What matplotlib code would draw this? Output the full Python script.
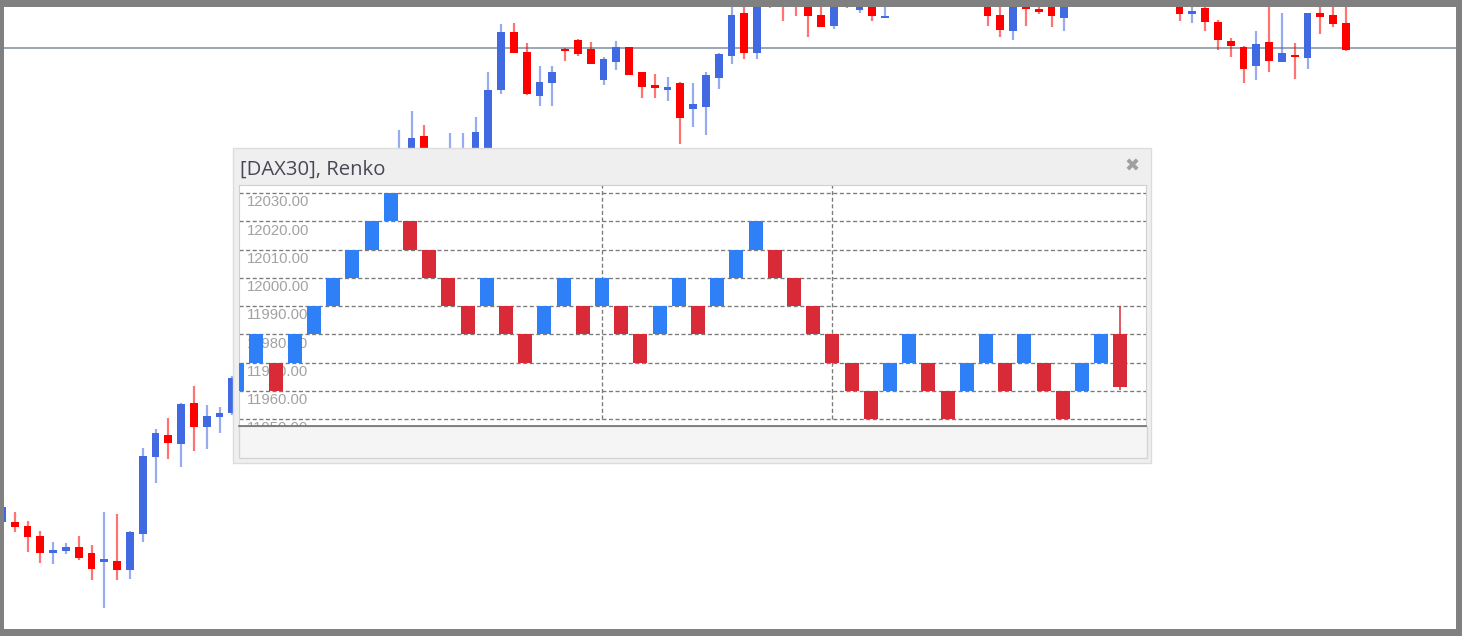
import numpy as np
import matplotlib.pyplot as plt
from matplotlib.patches import Rectangle
from matplotlib.transforms import offset_copy

W, H = 1462, 636
nan = np.nan

# background candle chart, first candle (index -1) is cut by the left border
# nan = candle hidden behind the popup or above the top edge
candle_start = -1
candle_open = [11763.0, 11763.2, 11761.0, 11756.2, 11747.4, 11748.4, 11750.7, 11747.4, 11742.9, 11743.5,
               11738.8, 11757.0, 11795.4, 11806.5, 11801.9, 11822.4, 11810.7, 11815.4, 11817.5] + [nan] * 12 + \
              [11940.0, 11944.0, 11956.0, nan, 11940.0, 11940.0, 11944.0, 11944.0, 11979.0, 12007.9,
               11998.2, 11976.0, 11982.4, 11999.7, 12004.0, 11999.7, 11983.9, 11992.9, 12000.4, 11987.9,
               11981.4, 11979.2, 11982.4, 11969.5, 11970.4, 11984.9, 11996.0, 12017.4, 11997.7, 12022.0,
               12030.0, 12030.0, 12026.0, 12016.5, 12011.2, 12030.0, 12019.0, 12026.0, 12015.2] + [nan] * 7 + \
              [12026.0, 12016.5, 12008.7, 12026.0, 12019.5, 12026.0, 12015.2] + [nan] * 8 + \
              [12026.0, 12016.9, 12019.9, 12013.2, 12003.5, 12000.4, 11991.2, 12002.9, 11993.2, 11996.5,
               11995.2, 12017.4, 12016.5, 12012.4]
candle_high = [11771.5, 11768.2, 11763.5, 11758.7, 11752.9, 11752.4, 11756.2, 11751.5, 11768.2, 11766.9,
               11758.7, 11799.9, 11809.5, 11815.2, 11822.4, 11831.2, 11821.5, 11820.7, 11836.0] + [nan] * 12 + \
              [11959.0, 11968.5, 11961.4, nan, 11957.4, 11957.4, 11965.4, 11987.9, 12011.9, 12012.7,
               12002.4, 11991.0, 11991.0, 11999.9, 12004.7, 12002.9, 11995.7, 12003.7, 12000.7, 11988.0,
               11987.0, 11985.4, 11983.2, 11982.4, 11988.0, 11997.7, 12023.0, 12023.0, 12030.0, 12032.0,
               12032.0, 12032.0, 12030.0, 12022.0, 12025.0, 12032.0, 12028.0, 12028.0, 12020.7] + [nan] * 7 + \
              [12028.0, 12022.0, 12026.0, 12028.0, 12020.7, 12028.0, 12028.0] + [nan] * 8 + \
              [12028.0, 12022.0, 12021.0, 12014.0, 12005.2, 12001.2, 12008.5, 12023.0, 12017.4, 12002.4,
               12017.4, 12022.0, 12022.0, 12022.0]
candle_low = [11762.0, 11757.9, 11748.2, 11742.7, 11742.0, 11746.9, 11744.0, 11734.0, 11719.9, 11734.0,
              11734.4, 11753.2, 11782.7, 11794.5, 11790.7, 11798.5, 11799.5, 11807.4, 11816.5] + [nan] * 12 + \
             [11936.0, 11940.0, 11940.0, nan, 11938.0, 11938.0, 11940.0, 11940.0, 11976.9, 11997.4,
              11976.5, 11971.0, 11971.0, 11993.5, 11996.0, 11992.0, 11981.5, 11988.9, 11986.4, 11975.0,
              11975.0, 11973.7, 11952.0, 11960.7, 11956.7, 11979.4, 11992.0, 11994.4, 11994.4, 12019.9,
              12013.5, 12016.2, 12005.7, 12010.7, 12009.5, 12019.9, 12017.7, 12013.7, 12014.9] + [nan] * 7 + \
             [12011.2, 12005.7, 12004.0, 12011.2, 12016.9, 12010.4, 12008.7] + [nan] * 8 + \
             [12013.7, 12012.7, 12008.7, 11999.0, 11995.4, 11982.4, 11984.0, 11988.2, 11992.9, 11984.5,
              11989.5, 12007.0, 12010.4, 11998.7]
candle_close = [11770.5, 11760.4, 11755.4, 11747.7, 11749.0, 11750.4, 11745.2, 11739.5, 11744.5, 11738.9,
                11757.9, 11796.0, 11807.4, 11802.7, 11821.9, 11810.7, 11816.0, 11817.7, 11835.0] + [nan] * 12 + \
               [11948.0, 11955.2, 11944.0, nan, 11946.0, 11946.0, 11958.2, 11979.0, 12007.9, 11997.7,
                11976.9, 11982.9, 11987.9, 11998.5, 11996.9, 11992.0, 11994.4, 12000.7, 11986.4, 11980.7,
                11980.0, 11980.5, 11964.9, 11971.9, 11986.4, 11996.9, 12016.5, 11997.7, 12026.0, 12030.0,
                12022.0, 12022.0, 12016.2, 12010.7, 12022.0, 12024.0, 12026.0, 12016.2, 12016.0] + [nan] * 7 + \
               [12016.2, 12009.0, 12024.0, 12019.4, 12018.2, 12016.2, 12026.0] + [nan] * 8 + \
               [12016.9, 12018.7, 12012.9, 12004.0, 12001.0, 11989.5, 12002.0, 11993.5, 11997.4, 11995.4,
                12017.4, 12015.4, 12011.9, 11999.0]
level_line = 12000.0

# Renko popup
box_size = 10
brick_low = [11960, 11970, 11960, 11970, 11980, 11990, 12000, 12010, 12020, 12010,
             12000, 11990, 11980, 11990, 11980, 11970, 11980, 11990, 11980, 11990,
             11980, 11970, 11980, 11990, 11980, 11990, 12000, 12010, 12000, 11990,
             11980, 11970, 11960, 11950, 11960, 11970, 11960, 11950, 11960, 11970,
             11960, 11970, 11960, 11950, 11960, 11970]
brick_up = [1, 1, 0, 1, 1, 1, 1, 1, 1, 0,
            0, 0, 0, 1, 0, 0, 1, 1, 0, 1,
            0, 0, 1, 1, 0, 1, 1, 1, 0, 0,
            0, 0, 0, 0, 1, 1, 0, 0, 1, 1,
            0, 1, 0, 0, 1, 1]
last_open, last_close, last_high, last_low = 11980.0, 11961.5, 11990.0, 11960.3
grid_levels = [11950, 11960, 11970, 11980, 11990, 12000, 12010, 12020, 12030]
session_breaks = [19, 31]

fig = plt.figure(figsize=(W / 100, H / 100), dpi=100, facecolor='#808080')


def px_box(x0, y0, x1, y1):
    return [x0 / W, 1 - y1 / H, (x1 - x0) / W, (y1 - y0) / H]


# --- background candles
ax = fig.add_axes(px_box(4, 7, 1456, 629), zorder=0)
ax.set_xlim(-0.836, 112.6)
ax.set_ylim(11709.5, 12020.5)
ax.axis('off')
ax.add_patch(Rectangle((0, 0), 1, 1, transform=ax.transAxes, fc='white', ec='none', zorder=0))
ax.axhline(level_line, color='#7f8e9c', lw=1.1, zorder=1)

o = np.array(candle_open)
hi = np.array(candle_high)
lo = np.array(candle_low)
c = np.array(candle_close)
idx = np.arange(candle_start, candle_start + len(o))
ok = ~np.isnan(o)
up = ok & (c >= o)
dn = ok & (c < o)
for sel, col in [(up, '#4169e1'), (dn, '#ff0000')]:
    ax.vlines(idx[sel], lo[sel], hi[sel], colors=col, lw=1.6, alpha=0.55, zorder=2)
    ax.bar(idx[sel], c[sel] - o[sel], bottom=o[sel], width=0.62, color=col, zorder=3)

# --- popup chrome (pixel coordinates)
ui = fig.add_axes([0, 0, 1, 1], zorder=1)
ui.set_xlim(0, W)
ui.set_ylim(H, 0)
ui.axis('off')
ui.add_patch(Rectangle((233, 148), 918, 315, fc='#efefef', ec='#dcdcdc', lw=1))
ui.add_patch(Rectangle((238.5, 426), 908, 32, fc='#f5f5f5', ec='#d4d4d4', lw=1))
ui.text(240, 175, '[DAX30], Renko', fontsize=14.6, family='Open Sans', color='#474756',
        ha='left', va='baseline')
ui.text(1132, 166.5, '\u2716', fontsize=13, family='DejaVu Sans', color='#a0a0a0',
        ha='center', va='center')

# --- renko plot
ar = fig.add_axes(px_box(239.5, 185, 1146, 426), zorder=2)
ar.set_facecolor('white')
ar.set_xlim(0.115, 47.33)
ar.set_ylim(11947.6, 12032.9)
ar.set_xticks([])
ar.set_yticks([])
for s in ['top', 'left', 'right']:
    ar.spines[s].set_color('#d0d0d0')
    ar.spines[s].set_linewidth(0.8)
ar.spines['bottom'].set_color('#6e6e6e')
ar.spines['bottom'].set_linewidth(1.2)

dash = (0, (3.1, 1.9))
for v in grid_levels:
    ar.axhline(v, color='#7a7a7a', lw=0.95, ls=dash, zorder=1)
ar.vlines(session_breaks, grid_levels[0], 12040, colors='#7a7a7a', lw=0.95, ls=dash, zorder=1)

lab_tr = offset_copy(ar.get_yaxis_transform(), fig=fig, x=7.5, y=-2.2, units='dots')
for v in grid_levels:
    ar.text(0, v, f'{v:.2f}', transform=lab_tr, fontsize=10.7, family='Liberation Sans',
            color='#a2a2a2', ha='left', va='top', zorder=2, clip_on=True)

bi = np.arange(len(brick_low))
bu = np.array(brick_up, dtype=bool)
bl = np.array(brick_low)
ar.bar(bi[bu], box_size, bottom=bl[bu], width=0.73, color='#2f7ff6', zorder=3)
ar.bar(bi[~bu], box_size, bottom=bl[~bu], width=0.73, color='#d92a37', zorder=3)
n = len(brick_low)
ar.vlines(n, last_low, last_high, colors='#d92a37', lw=1.1, zorder=3)
ar.bar(n, last_close - last_open, bottom=last_open, width=0.73, color='#d92a37', zorder=3)

fig.savefig('out.png', dpi=100, facecolor=fig.get_facecolor())
